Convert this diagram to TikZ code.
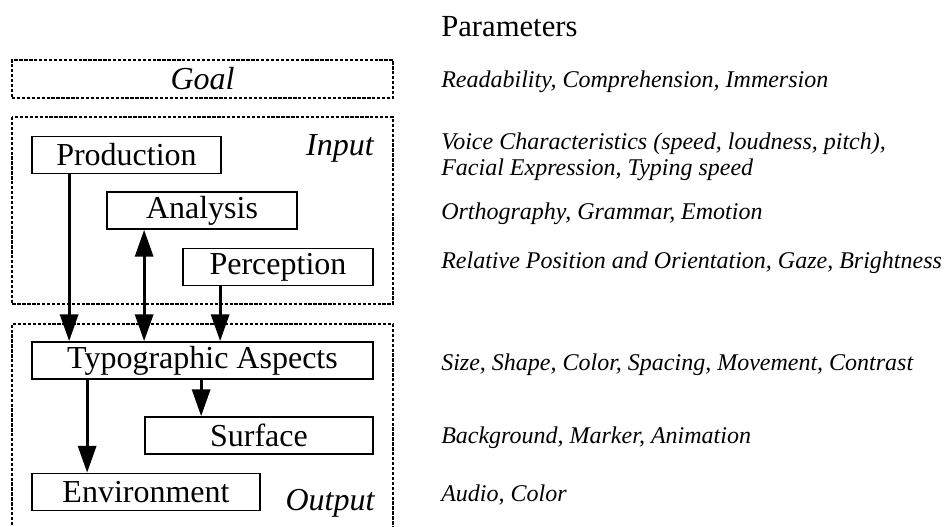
\documentclass[tikz,border=0pt]{standalone}
\usepackage{fontspec}
\setmainfont{Liberation Serif}
\usetikzlibrary{arrows.meta, positioning}

\begin{document}
\begin{tikzpicture}[
    x=0.75pt, y=-0.75pt,
    box/.style={rectangle, draw, line width=1.3pt, inner sep=0pt, minimum height=27.75pt, font=\fontsize{24}{26}\selectfont},
    zone/.style={draw, line width=1pt, dash pattern=on 2.5pt off 1.2pt},
    tag/.style={inner sep=0pt, font=\fontsize{24}{26}\selectfont\itshape},
    param/.style={anchor=west, inner sep=0pt, align=left, font=\fontsize{18}{19.5}\selectfont\itshape},
    arr/.style={-{Triangle[length=20pt, width=13.5pt]}, line width=2.2pt},
    darr/.style={{Triangle[length=20pt, width=13.5pt]}-{Triangle[length=20pt, width=13.5pt]}, line width=2.2pt}
  ]
    \useasboundingbox (0,0) rectangle (947,526);

    % zones
    \node[zone, tag, minimum width=285.75pt, minimum height=28.5pt] (goal) at (202.5,79) {Goal};
    \draw[zone] (12,117) rectangle (393,304);
    \draw[zone] (12,545) -- (12,324) -- (393,324) -- (393,545);
    \node[tag] (input) at (340,148) {Input};
    \node[tag] (output) at (330,503) {Output};

    % boxes
    \node[box, minimum width=141.75pt] (prod) at (126.5,155) {Production};
    \node[box, minimum width=142.5pt] (ana) at (202,210.5) {Analysis};
    \node[box, minimum width=142.5pt] (perc) at (278,267) {Perception};
    \node[box, minimum width=255.75pt] (typo) at (202.5,360.5) {Typographic Aspects};
    \node[box, minimum width=171pt] (surf) at (259,435.5) {Surface};
    \node[box, minimum width=171pt] (env) at (146,492) {Environment};

    \draw[arr] ([xshift=28.5pt]prod.south west) -- ([xshift=28.5pt]typo.north west);
    \draw[darr] ([xshift=28.5pt]ana.south west) -- ([xshift=84.75pt]typo.north west);
    \draw[arr] ([xshift=28.5pt]perc.south west) -- ([xshift=141.75pt]typo.north west);
    \draw[arr] ([xshift=127.5pt]typo.south west) -- ([xshift=42.75pt]surf.north west);
    \draw[arr] ([xshift=42pt]typo.south west) -- ([xshift=42pt]env.north west);

    % parameters
    \node[anchor=west, inner sep=0pt, font=\fontsize{23}{25}\selectfont] (head) at (441,27) {Parameters};
    \node[param] (pgoal) at (441,82) {Readability, Comprehension, Immersion};
    \node[param] (pprod) at (441,157) {Voice Characteristics (speed, loudness, pitch),\\Facial Expression, Typing speed};
    \node[param] (pana) at (441,214) {Orthography, Grammar, Emotion};
    \node[param] (pperc) at (441,263) {Relative Position and Orientation, Gaze, Brightness};
    \node[param] (ptypo) at (441,365) {Size, Shape, Color, Spacing, Movement, Contrast};
    \node[param] (psurf) at (441,438) {Background, Marker, Animation};
    \node[param] (penv) at (441,495) {Audio, Color};
  \end{tikzpicture}
\end{document}
